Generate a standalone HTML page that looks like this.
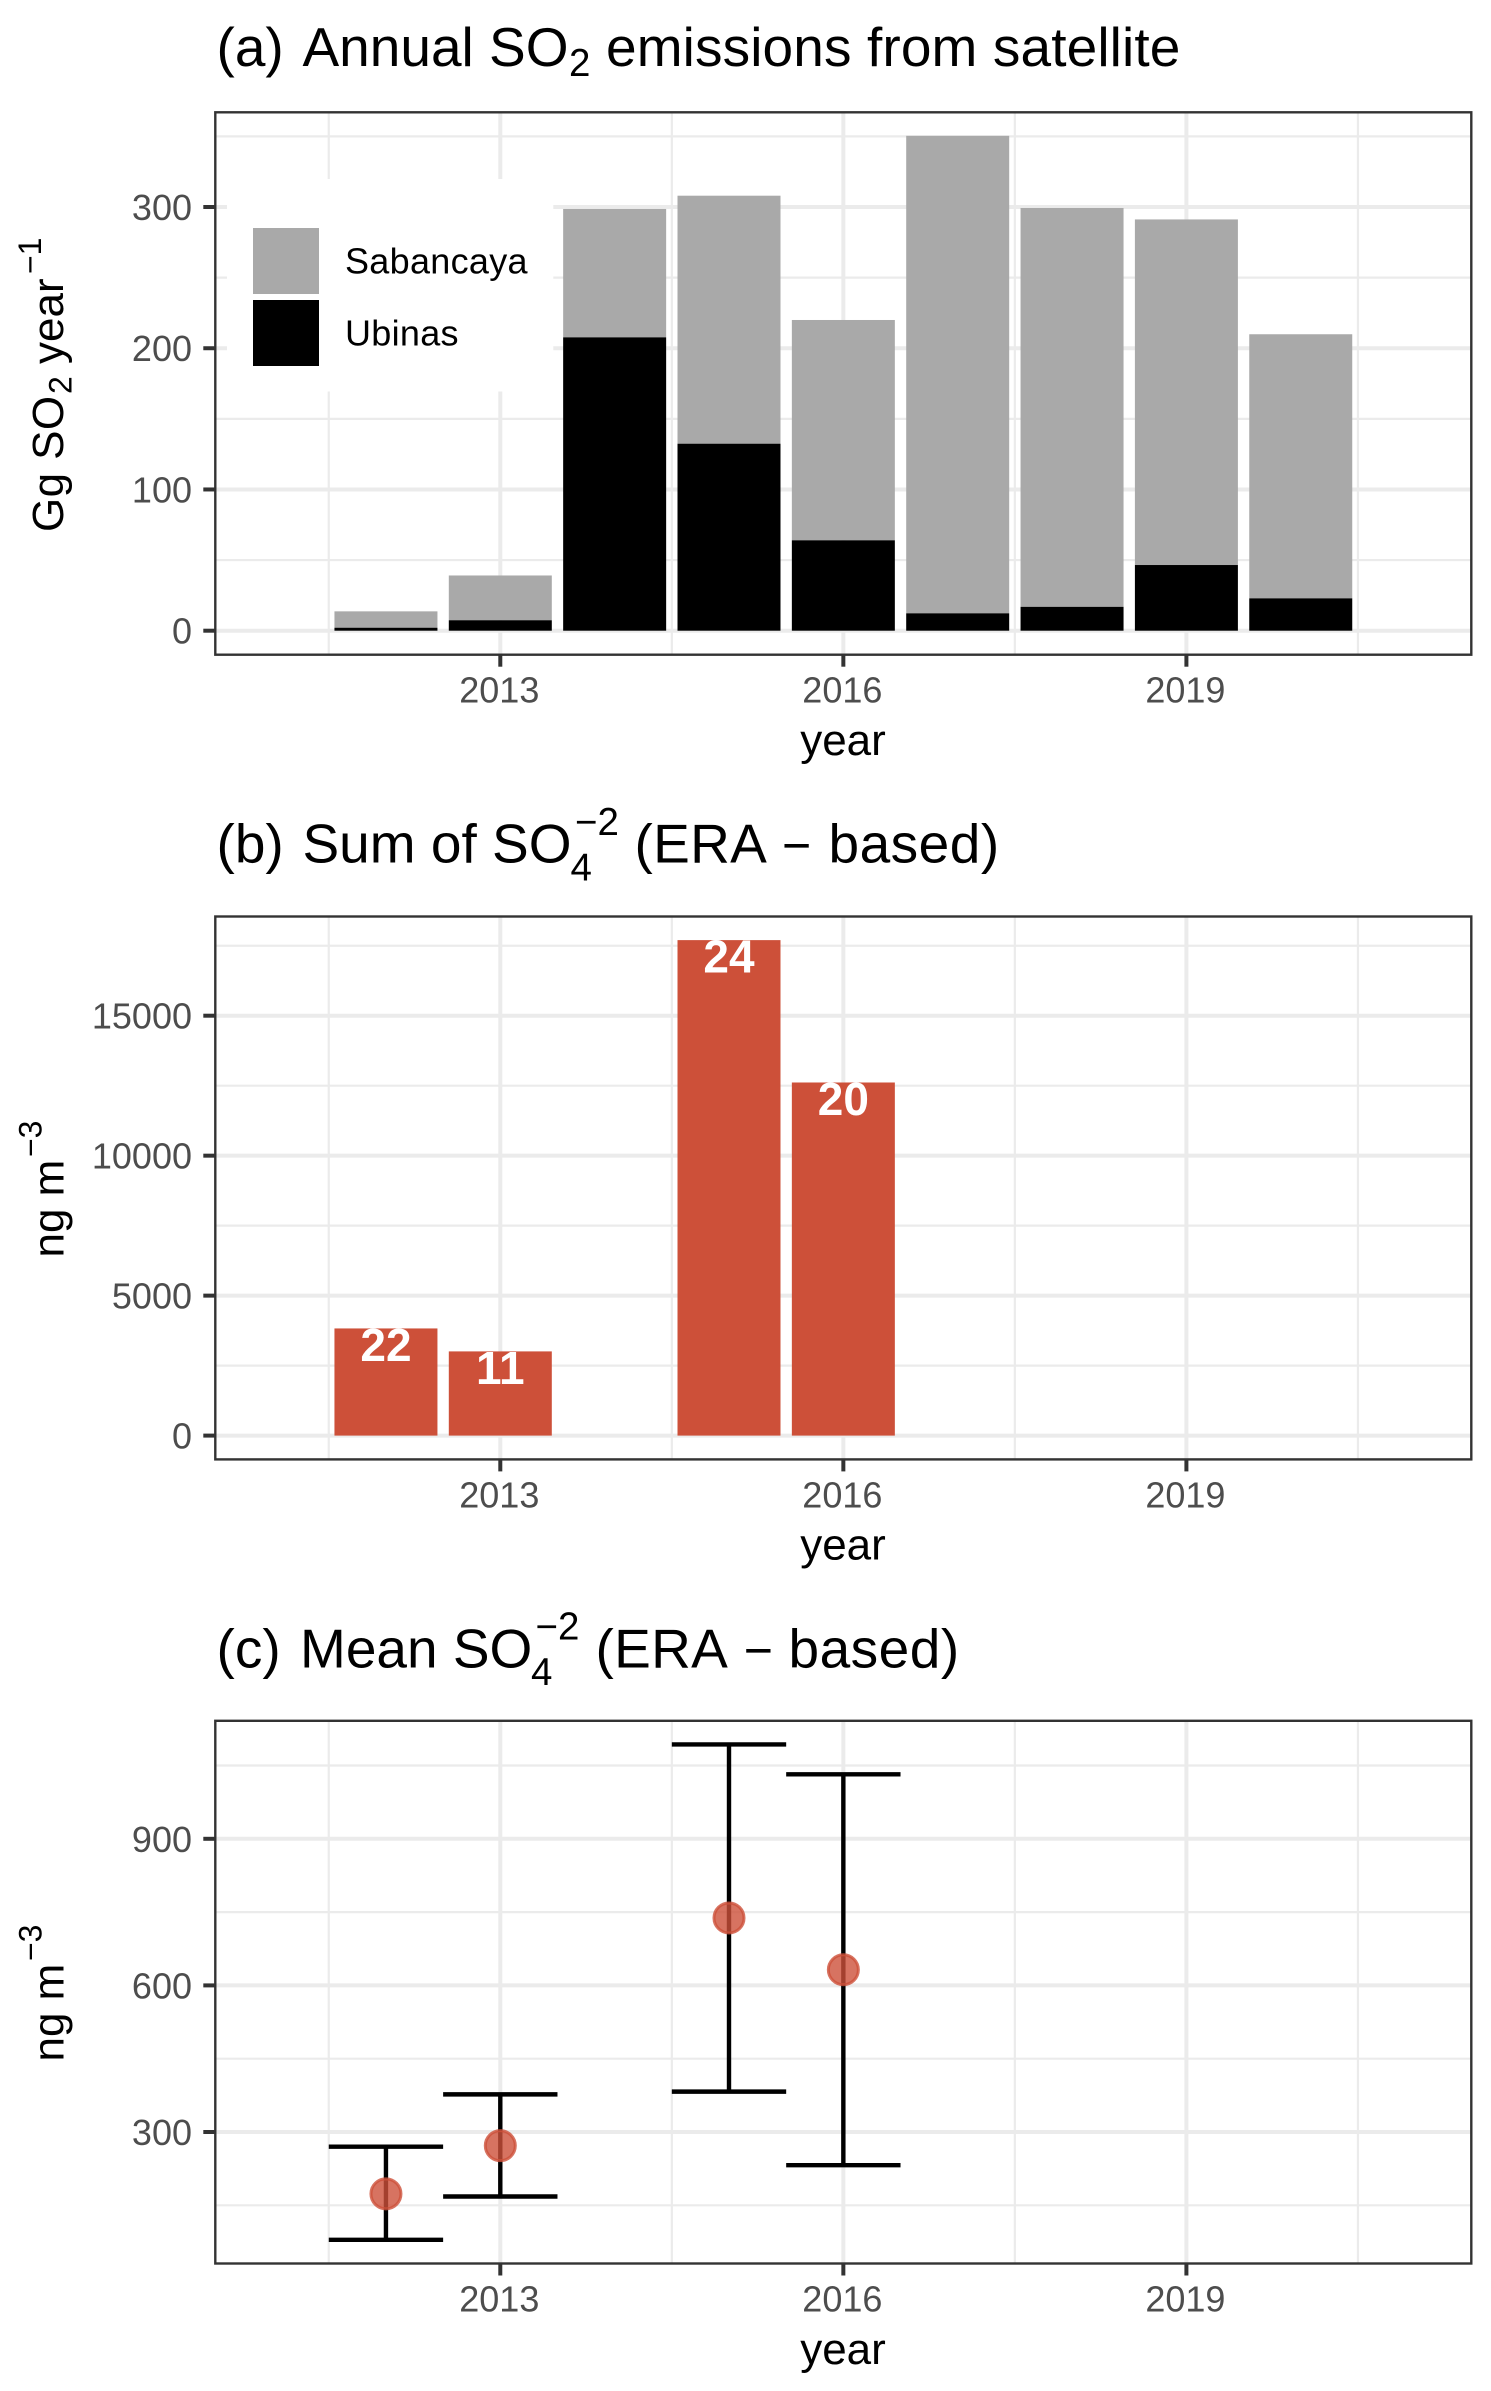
<!DOCTYPE html>
<html lang="en">
<head>
<meta charset="utf-8">
<title>SO2 emissions and SO4 charts</title>
<style>
html,body{margin:0;padding:0;background:#fff;}
svg{display:block;}
text{font-family:"Liberation Sans",Arial,sans-serif;}
.title{font-size:55px;fill:#000;}
.axt{font-size:44px;fill:#000;}
.tick{font-size:36px;fill:#4d4d4d;}
.leg{font-size:36px;fill:#000;letter-spacing:.3px;}
.cnt{font-size:46px;font-weight:bold;fill:#fff;}
</style>
</head>
<body>
<svg id="chart" xmlns="http://www.w3.org/2000/svg" width="1491" height="2391" viewBox="0 0 1491 2391">
  <rect x="0" y="0" width="1491" height="2391" fill="#fff"/>

  <text class="title" y="66"><tspan x="216.5">(a)</tspan><tspan x="302.5">Annual SO</tspan><tspan x="569" y="76" style="font-size:38.5px">2</tspan><tspan x="606" y="66" style="letter-spacing:.12px">emissions from satellite</tspan></text>
  <text class="title" y="862.7"><tspan x="216.5">(b)</tspan><tspan x="302.5">Sum of SO</tspan><tspan x="570.5" y="880.7" style="font-size:38.5px">4</tspan><tspan x="575" y="835" style="font-size:38.5px">−2</tspan><tspan x="634.5" y="862.7" style="letter-spacing:.3px">(ERA</tspan><tspan x="782" style="font-size:50px">−</tspan><tspan x="828.5" style="letter-spacing:.5px">based)</tspan></text>
  <text class="title" y="1667.7"><tspan x="216.5">(c)</tspan><tspan x="300">Mean SO</tspan><tspan x="531" y="1685" style="font-size:38.5px">4</tspan><tspan x="535.5" y="1639.3" style="font-size:38.5px">−2</tspan><tspan x="595.5" y="1667.7" style="letter-spacing:.3px">(ERA</tspan><tspan x="743.7" style="font-size:50px">−</tspan><tspan x="788.5" style="letter-spacing:.5px">based)</tspan></text>

  <g id="panel-a"></g>
  <g id="panel-b"></g>
  <g id="panel-c"></g>

  <text class="axt" transform="translate(63,532) rotate(-90)"><tspan x="0" y="0" style="letter-spacing:.4px">Gg SO</tspan><tspan x="138" y="8.7" style="font-size:32px">2</tspan><tspan x="168" y="0">year</tspan><tspan x="258" y="-22" style="font-size:32px">−1</tspan></text>
  <text class="axt" transform="translate(63.6,1257.5) rotate(-90)"><tspan x="0" y="0">ng m</tspan><tspan x="100.5" y="-22" style="font-size:32px">−3</tspan></text>
  <text class="axt" transform="translate(63.6,2061.5) rotate(-90)"><tspan x="0" y="0">ng m</tspan><tspan x="100.5" y="-22" style="font-size:32px">−3</tspan></text>

  <text class="axt" x="843" y="755" text-anchor="middle">year</text>
  <text class="axt" x="843" y="1559.5" text-anchor="middle">year</text>
  <text class="axt" x="843" y="2364" text-anchor="middle">year</text>
</svg>

<script>
// Shared x axis
const xTicks = [2013, 2016, 2019];
const xMinor = [2011.5, 2014.5, 2017.5, 2020.5];

// Panel (a): annual SO2 emissions, Gg SO2 / year
const yearsA = [2012, 2013, 2014, 2015, 2016, 2017, 2018, 2019, 2020];
const totalA = [13.7, 39.1, 298.6, 308, 220, 350.4, 299.3, 291.2, 209.9];
const ubinasA = [2.1, 7.4, 207.7, 132.4, 64, 12.3, 16.9, 46.5, 22.9];
const yTicksA = [0, 100, 200, 300];
const yMinorA = [50, 150, 250, 350];

// Panel (b): sum of SO4, ng/m3
const yearsB = [2012, 2013, 2015, 2016];
const sumB = [3828, 3008, 17700, 12614];
const countsB = ["22", "11", "24", "20"];
const yTicksB = [0, 5000, 10000, 15000];
const yMinorB = [2500, 7500, 12500, 17500];

// Panel (c): mean SO4 with range, ng/m3
const yearsC = [2012, 2013, 2015, 2016];
const meanC = [173.5, 272, 738, 632];
const upperC = [270, 377, 1093, 1032];
const lowerC = [79.4, 168, 382.6, 232];
const yTicksC = [300, 600, 900];
const yMinorC = [150, 450, 750, 1050];

const NS = 'http://www.w3.org/2000/svg';
const LEFT = 215.3, RIGHT = 1471.3;
const GRID = '#ebebeb', DARK = '#333333', RED = '#cd5039';

function xScale(year) { return 500.3 + (year - 2013) * 114.35; }
function makeY(v0, p0, v1, p1) { return function (v) { return p0 + (v - v0) * (p1 - p0) / (v1 - v0); }; }

const yA = makeY(0, 630.7, 300, 207);
const yB = makeY(0, 1435.6, 15000, 1015.7);
const yC = makeY(300, 2132, 900, 1838.8);

function shape(parent, tag, props) {
  const el = document.createElementNS(NS, tag);
  for (const k in props) el.setAttribute(k, props[k]);
  parent.appendChild(el);
  return el;
}
function line(parent, x1, y1, x2, y2, color, w) {
  return shape(parent, 'line', { x1: x1, y1: y1, x2: x2, y2: y2, stroke: color, 'stroke-width': w });
}

function drawFrame(g, top, bottom, yFn, yTicks, yMinor) {
  const bg = shape(g, 'rect', { x: LEFT, y: top, width: RIGHT - LEFT, height: bottom - top, fill: '#fff' });
  
  
  yMinor.forEach(function (v) {
    const el = line(g, LEFT, yFn(v), RIGHT, yFn(v), GRID, 2.2);
    
    
  });
  xMinor.forEach(function (v) {
    const el = line(g, xScale(v), top, xScale(v), bottom, GRID, 2.2);
    
    
  });
  yTicks.forEach(function (v) {
    const el = line(g, LEFT, yFn(v), RIGHT, yFn(v), GRID, 4);
    
    
  });
  xTicks.forEach(function (v) {
    const el = line(g, xScale(v), top, xScale(v), bottom, GRID, 4);
    
    
  });
}

function drawAxes(g, top, bottom, yFn, yTicks) {
  const border = shape(g, 'rect', { x: LEFT, y: top, width: RIGHT - LEFT, height: bottom - top, fill: 'none', stroke: DARK, 'stroke-width': 2.4 });
  
  
  yTicks.forEach(function (v) {
    const mark = line(g, LEFT - 12, yFn(v), LEFT, yFn(v), DARK, 4);
    
    
    const label = shape(g, 'text', { x: 192, y: yFn(v) + 13, 'text-anchor': 'end', 'class': 'tick' });
    label.textContent = String(v);
    
    
  });
  xTicks.forEach(function (v) {
    const mark = line(g, xScale(v), bottom, xScale(v), bottom + 12, DARK, 4);
    
    
    const label = shape(g, 'text', { x: xScale(v) - 1, y: bottom + 48, 'text-anchor': 'middle', 'class': 'tick' });
    label.textContent = String(v);
    
    
  });
}

const BAR_W = 103;

// ---- Panel (a) ----
(function () {
  const g = document.getElementById('panel-a');
  const top = 112.3, bottom = 654.7;
  drawFrame(g, top, bottom, yA, yTicksA, yMinorA);
  yearsA.forEach(function (yr, i) {
    const x = xScale(yr) - BAR_W / 2;
    const sab = shape(g, 'rect', { x: x, y: yA(totalA[i]), width: BAR_W, height: yA(ubinasA[i]) - yA(totalA[i]), fill: '#a9a9a9' });
    
    
    const ubi = shape(g, 'rect', { x: x, y: yA(ubinasA[i]), width: BAR_W, height: yA(0) - yA(ubinasA[i]), fill: '#000' });
    
    
  });
  const legendBox = shape(g, 'rect', { x: 227, y: 179, width: 326.3, height: 212.5, fill: '#fff' });
  
  
  const sw1 = shape(g, 'rect', { x: 253, y: 228, width: 66, height: 66, fill: '#a9a9a9' });
  
  
  const sw2 = shape(g, 'rect', { x: 253, y: 300, width: 66, height: 66, fill: '#000' });
  
  
  const t1 = shape(g, 'text', { x: 345, y: 273.6, 'class': 'leg' });
  t1.textContent = 'Sabancaya';
  
  
  const t2 = shape(g, 'text', { x: 345, y: 345.7, 'class': 'leg' });
  t2.textContent = 'Ubinas';
  
  
  drawAxes(g, top, bottom, yA, yTicksA);
})();

// ---- Panel (b) ----
(function () {
  const g = document.getElementById('panel-b');
  const top = 916.5, bottom = 1459.4;
  drawFrame(g, top, bottom, yB, yTicksB, yMinorB);
  yearsB.forEach(function (yr, i) {
    const x = xScale(yr) - BAR_W / 2;
    const bar = shape(g, 'rect', { x: x, y: yB(sumB[i]), width: BAR_W, height: yB(0) - yB(sumB[i]), fill: RED });
    
    
    const label = shape(g, 'text', { x: xScale(yr), y: yB(sumB[i]) + 32.5, 'text-anchor': 'middle', 'class': 'cnt' });
    label.textContent = countsB[i];
    
    
  });
  drawAxes(g, top, bottom, yB, yTicksB);
})();

// ---- Panel (c) ----
(function () {
  const g = document.getElementById('panel-c');
  const top = 1720.8, bottom = 2263.5;
  drawFrame(g, top, bottom, yC, yTicksC, yMinorC);
  const half = 114.35 / 2;
  yearsC.forEach(function (yr, i) {
    const x = xScale(yr);
    const stem = line(g, x, yC(upperC[i]), x, yC(lowerC[i]), '#000', 4.4);
    
    
    const capT = line(g, x - half, yC(upperC[i]), x + half, yC(upperC[i]), '#000', 4.4);
    
    
    const capB = line(g, x - half, yC(lowerC[i]), x + half, yC(lowerC[i]), '#000', 4.4);
    
    
    const dot = shape(g, 'circle', { cx: x, cy: yC(meanC[i]), r: 15, fill: RED, 'fill-opacity': 0.8, stroke: RED, 'stroke-opacity': 0.8, 'stroke-width': 3 });
    
    
  });
  drawAxes(g, top, bottom, yC, yTicksC);
})();
</script>
</body>
</html>
